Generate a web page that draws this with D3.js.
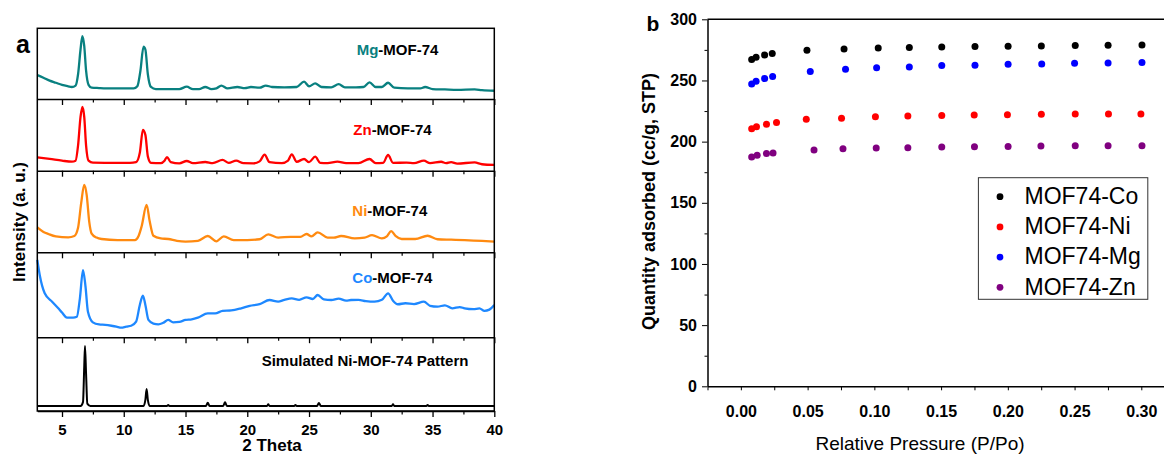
<!DOCTYPE html>
<html>
<head>
<meta charset="utf-8">
<script src="https://cdn.jsdelivr.net/npm/d3@7"></script>
<style>
  body { margin: 0; background: #fff; }
  svg { font-family: "Liberation Sans", Arial, sans-serif; }
  .tick text { font-weight: bold; }
</style>
</head>
<body>
<svg class="fig" width="1164" height="455"></svg>
<script>
// ---- panel a : XRD patterns, [2theta, intensity %] ----
const mgXRD = [[3,34],[3.5,30],[4,26],[4.5,23],[5,20],[5.5,18],[5.8,17],[6.1,19],[6.3,35],[6.5,70],[6.65,89],[6.8,75],[6.95,40],[7.15,20],[7.4,16],[8,15.5],[9,15],[10,15],[10.8,15],[11.1,18],[11.35,40],[11.6,74],[11.75,70],[11.95,35],[12.2,17],[12.6,14],[13.5,14],[14.5,14],[15.1,17.4],[15.6,14],[16.1,14],[16.6,17],[17.1,14],[17.5,15],[17.9,19],[18.4,15],[19.2,17],[19.8,15.5],[20.3,17],[21,16],[21.5,19],[22,17],[23,16.5],[24,17],[24.6,24.5],[25,18],[25.5,22],[26,17],[26.8,16.5],[27.4,21],[27.9,16.5],[28.8,16.5],[29.4,17],[29.9,23.6],[30.4,17],[30.9,17],[31.4,23],[31.9,16],[33,15],[34,15],[34.4,17],[35,14],[36,13.5],[37,13],[38.4,13.7],[39,12.5],[40,11.7]];
const znXRD = [[3,18.7],[4,16.5],[5,14],[5.8,12.6],[6.1,14],[6.3,35],[6.5,75],[6.65,89],[6.8,75],[6.95,35],[7.15,14],[7.5,11.2],[9,11],[10.5,11],[11,12],[11.3,25],[11.55,56.8],[11.75,50],[11.95,20],[12.2,11],[13,10.5],[13.3,14],[13.5,19],[13.8,12],[14.5,10.3],[15.1,13.5],[15.6,10.5],[16.6,12.1],[17.2,10.5],[18,15],[18.5,11],[19.1,14],[19.7,10.5],[20.5,10.3],[21,13],[21.4,22.3],[21.8,12],[22.8,10.5],[23.3,14],[23.6,22.9],[24,12.5],[24.6,16.3],[25,12],[25.5,19.6],[25.9,11],[26.5,10.5],[27.3,12.6],[28,10.5],[29,10.5],[29.9,16.3],[30.4,10.5],[31,11],[31.4,21.9],[31.8,11],[32.9,11.2],[33.5,10.5],[34.3,14],[34.8,10.5],[35.7,12.5],[36.1,10.5],[36.5,12],[37,10],[38.4,11.5],[39,9],[40,8]];
const niXRD = [[3,30.6],[3.5,25],[3.9,22.4],[4.5,19.5],[5.5,18.4],[6,20],[6.3,30],[6.55,60],[6.8,82.5],[7,70],[7.2,38],[7.4,23],[7.8,18],[8.2,16.3],[9.5,15],[10.9,15],[11.2,20],[11.45,32],[11.85,58],[12.1,38],[12.4,20.3],[13,17],[13.6,16.3],[14.3,14],[15,13],[16,14],[16.8,20],[17.5,13.5],[18.1,19.6],[18.9,15],[20,15],[21,16],[21.7,22],[22.5,18],[23.5,19],[24.3,19],[24.8,22.4],[25.2,19.5],[25.7,24.5],[26.5,18],[27,18],[27.6,20],[28.7,17],[29.5,18],[30.1,21],[30.9,17],[31.3,19.5],[31.65,26],[32,20],[32.5,16.3],[33.6,16.3],[34.6,20.3],[35.4,16],[36.5,15.5],[37.6,15],[39,14],[40,13]];
const coXRD = [[3,91],[3.2,73],[3.6,51.7],[4.2,41.8],[4.7,34],[5,29],[5.4,23],[5.9,23],[6.2,24],[6.45,45.8],[6.7,79],[6.9,60],[7.1,30],[7.5,17.5],[8,15],[8.5,14.5],[9,13.5],[9.4,12.5],[9.8,11.2],[10.2,12.5],[10.6,13.5],[11,18.3],[11.3,38],[11.55,49],[11.75,38],[12,20.3],[12.4,16],[12.8,15.2],[13.2,17],[13.6,20.3],[14,17.5],[14.5,18],[15,20.3],[15.5,21],[16,23],[16.8,28],[17.4,28],[18,31],[18.7,31.5],[19.5,34],[20.2,37],[21,39],[21.8,43.8],[22.5,42],[23,44],[23.6,45.8],[24.2,44],[24.8,47],[25.3,45],[25.7,49.7],[26.2,44.5],[26.8,43.8],[27.4,45.5],[28,43],[28.4,43.8],[29,44],[29.6,42.5],[30.3,41.8],[30.9,44],[31.4,51.7],[31.8,43],[32.2,38.8],[32.8,40],[33.5,39],[34.3,41.8],[34.8,37],[35.4,36],[36,37.5],[36.6,34],[37.2,35.5],[37.6,34],[38.3,33],[38.8,34],[39.2,31],[39.6,32.5],[40,38]];
const simXRD = [[3,6.8],[6.5,6.8],[6.7,12],[6.8,60],[6.86,88],[6.95,50],[7.05,10],[7.3,6.8],[11.6,6.8],[11.75,15],[11.85,29.8],[11.95,15],[12.1,6.8],[13.5,6.8],[13.6,8],[13.7,6.8],[16.65,6.8],[16.8,11.3],[16.95,6.8],[18.05,6.8],[18.2,11.7],[18.35,6.8],[21.6,6.8],[21.7,9],[21.8,6.8],[23.8,6.8],[23.9,8],[24,6.8],[25.65,6.8],[25.8,11],[25.95,6.8],[31.7,6.8],[31.8,9],[31.9,6.8],[34.5,6.8],[34.6,8],[34.7,6.8],[40,6.8]];

const xrdMetals = ["Mg", "Zn", "Ni", "Co", ""];
const xrdColors = ["#098080", "#ff0000", "#ff8a10", "#1e88ff", "#000000"];
const xrdSeries = [mgXRD, znXRD, niXRD, coXRD, simXRD];
const thetaTicks = [5, 10, 15, 20, 25, 30, 35, 40];

// ---- panel b : N2 isotherms, [P/Po, cc/g] ----
const coIso = [[0.0081,267.1],[0.0114,269.0],[0.0178,270.9],[0.0235,272.0],[0.0495,274.7],[0.0773,275.8],[0.1029,276.6],[0.1262,276.9],[0.1505,277.4],[0.1754,277.7],[0.2002,278.0],[0.2251,278.2],[0.2505,278.5],[0.2751,278.8],[0.3005,279.0]];
const niIso = [[0.0081,210.5],[0.0117,212.1],[0.0192,214.3],[0.0267,215.7],[0.049,218.2],[0.0754,219.2],[0.1008,220.3],[0.1251,220.9],[0.1505,221.4],[0.1748,221.7],[0.1997,221.9],[0.2251,222.3],[0.2505,222.5],[0.2754,222.5],[0.2997,222.5]];
const mgIso = [[0.0081,247.2],[0.0114,249.4],[0.0178,251.6],[0.0238,253.3],[0.052,257.3],[0.0784,259.2],[0.1017,260.3],[0.1262,261.1],[0.1505,262.2],[0.1754,262.5],[0.2002,263.3],[0.2254,263.5],[0.2500,264.1],[0.2751,264.3],[0.3005,264.7]];
const znIso = [[0.0081,187.4],[0.0122,188.8],[0.0192,190.4],[0.0241,190.7],[0.0548,193.1],[0.0765,194.2],[0.1014,194.8],[0.1251,195.0],[0.1505,195.6],[0.175,195.8],[0.2002,196.1],[0.2248,196.4],[0.2505,196.6],[0.2751,196.6],[0.3005,196.6]];

const isoNames = ["MOF74-Co", "MOF74-Ni", "MOF74-Mg", "MOF74-Zn"];
const isoColors = ["#000000", "#ff0000", "#0000ff", "#800080"];
const isoSeries = [coIso, niIso, mgIso, znIso];
const qTicks = [0, 50, 100, 150, 200, 250, 300];
const pTicks = [0, 0.05, 0.10, 0.15, 0.20, 0.25, 0.30];

const svg = d3.select('.fig');

// ================= panel a =================
var aLeft = 37.3, aRight = 494.3;
var edges = [28.3, 99, 170.7, 252.3, 337.2, 411]; // top of each layer + bottom

var xA = d3.scaleLinear().domain([3, 40]).range([aLeft, aRight]);
var minorTheta = d3.range(2.5, 40.1, 2.5).filter(d => d % 5 !== 0 && d >= 3);

const graphA = svg.append('g');

xrdSeries.forEach(function(data, i) {
  var top = edges[i], bottom = edges[i + 1];
  var y = d3.scaleLinear().domain([0, 100]).range([bottom, top]);
  var last = i === xrdSeries.length - 1;

  graphA.append('path')
    .datum(data)
    .attr('fill', 'none')
    .attr('stroke', xrdColors[i])
    .attr('stroke-width', last ? 2 : 2.3)
    .attr('stroke-linejoin', 'round')
    .attr('d', d3.line()
      .x(d => xA(d[0]))
      .y(d => y(d[1]))
      .curve(d3.curveMonotoneX));

  // bottom axis of every layer, ticks hang into the layer below
  var major = graphA.append('g')
    .attr('transform', `translate(0,${bottom})`)
    .call(d3.axisBottom(xA).tickValues(thetaTicks).tickSize(6).tickSizeOuter(0).tickPadding(7)
      .tickFormat(last ? d3.format('d') : ''));
  major.select('.domain').attr('stroke-width', 1.5);
  major.selectAll('.tick line').attr('stroke-width', 1.3);
  major.selectAll('text').style('font-size', '15px').attr('fill', '#000');

  graphA.append('g')
    .attr('transform', `translate(0,${bottom})`)
    .call(d3.axisBottom(xA).tickValues(minorTheta).tickSize(3.5).tickSizeOuter(0).tickFormat(''))
    .call(g => g.select('.domain').remove())
    .selectAll('.tick line').attr('stroke-width', 1.2);

  // layer label
  var lab = graphA.append('text')
    .attr('y', [55, 135, 216, 283.3, 366][i])
    .style('font-size', '15px')
    .style('font-weight', 'bold');
  if (last) {
    lab.attr('x', 261.7).text('Simulated Ni-MOF-74 Pattern');
  } else {
    lab.attr('x', [356.7, 353.3, 352.3, 352.3][i]);
    lab.append('tspan').attr('fill', xrdColors[i]).text(xrdMetals[i]);
    lab.append('tspan').attr('fill', '#000').text('-MOF-74');
  }
});

// outer frame
graphA.append('rect')
  .attr('x', aLeft).attr('y', edges[0])
  .attr('width', aRight - aLeft).attr('height', edges[5] - edges[0])
  .attr('fill', 'none').attr('stroke', '#000').attr('stroke-width', 1.5);

graphA.append('text')
  .text('2 Theta')
  .attr('x', 272).attr('y', 450.5)
  .attr('text-anchor', 'middle')
  .style('font-size', '17px').style('font-weight', 'bold');

graphA.append('text')
  .text('Intensity (a. u.)')
  .attr('transform', 'translate(25,222) rotate(-90)')
  .attr('text-anchor', 'middle')
  .style('font-size', '17px').style('font-weight', 'bold');

graphA.append('text')
  .text('a')
  .attr('x', 16).attr('y', 53)
  .style('font-size', '25px').style('font-weight', 'bold');

// ================= panel b =================
var bLeft = 707.5, bTop = 19.3, bBottom = 386.3;
var xB = d3.scaleLinear().domain([-0.025, 0.317]).range([bLeft, 1164]);
var yB = d3.scaleLinear().domain([0, 300]).range([bBottom, bTop]);

const graphB = svg.append('g');

// minor ticks first
graphB.append('g')
  .attr('transform', `translate(${bLeft},0)`)
  .call(d3.axisLeft(yB).tickValues(d3.range(25, 300, 50)).tickSize(3).tickFormat(''))
  .call(g => g.select('.domain').remove());
graphB.append('g')
  .attr('transform', `translate(0,${bBottom})`)
  .call(d3.axisBottom(xB).tickValues(d3.range(-0.025, 0.3, 0.05)).tickSize(4).tickFormat(''))
  .call(g => g.select('.domain').remove());

var yAxisB = graphB.append('g')
  .attr('transform', `translate(${bLeft},0)`)
  .call(d3.axisLeft(yB).tickValues(qTicks).tickSize(5.5).tickSizeOuter(0).tickPadding(5).tickFormat(d3.format('d')));
var xAxisB = graphB.append('g')
  .attr('transform', `translate(0,${bBottom})`)
  .call(d3.axisBottom(xB).tickValues(pTicks).tickSize(4).tickSizeOuter(0).tickPadding(15).tickFormat(d3.format('.2f')));
[yAxisB, xAxisB].forEach(function(ax) {
  ax.select('.domain').attr('stroke-width', 1.5);
  ax.selectAll('text').style('font-size', '16px').attr('fill', '#000');
});

// top border
graphB.append('line')
  .attr('x1', bLeft).attr('x2', 1164)
  .attr('y1', bTop).attr('y2', bTop)
  .attr('stroke', '#000').attr('stroke-width', 1.5);

isoSeries.forEach(function(data, i) {
  graphB.append('g')
    .selectAll('circle')
    .data(data)
    .join('circle')
      .attr('cx', d => xB(d[0]))
      .attr('cy', d => yB(d[1]))
      .attr('r', 3.5)
      .attr('fill', isoColors[i]);
});

// legend
var legend = graphB.append('g');
legend.append('rect')
  .attr('x', 978.4).attr('y', 177.7)
  .attr('width', 169.4).attr('height', 121.6)
  .attr('fill', '#fff').attr('stroke', '#333').attr('stroke-width', 1);
isoNames.forEach(function(name, i) {
  legend.append('circle')
    .attr('cx', 1000).attr('cy', 196.7 + i * 30.2)
    .attr('r', 3.4).attr('fill', isoColors[i]);
  legend.append('text')
    .text(name)
    .attr('x', 1024.5).attr('y', 204 + i * 30.2)
    .style('font-size', '23px');
});

graphB.append('text')
  .text('Relative Pressure (P/Po)')
  .attr('x', 920).attr('y', 450)
  .attr('text-anchor', 'middle')
  .style('font-size', '19px');

graphB.append('text')
  .text('Quantity adsorbed (cc/g, STP)')
  .attr('transform', 'translate(655,201.5) rotate(-90)')
  .attr('text-anchor', 'middle')
  .style('font-size', '18px').style('font-weight', 'bold');

graphB.append('text')
  .text('b')
  .attr('x', 646.5).attr('y', 30.5)
  .style('font-size', '21px').style('font-weight', 'bold');
</script>
</body>
</html>
